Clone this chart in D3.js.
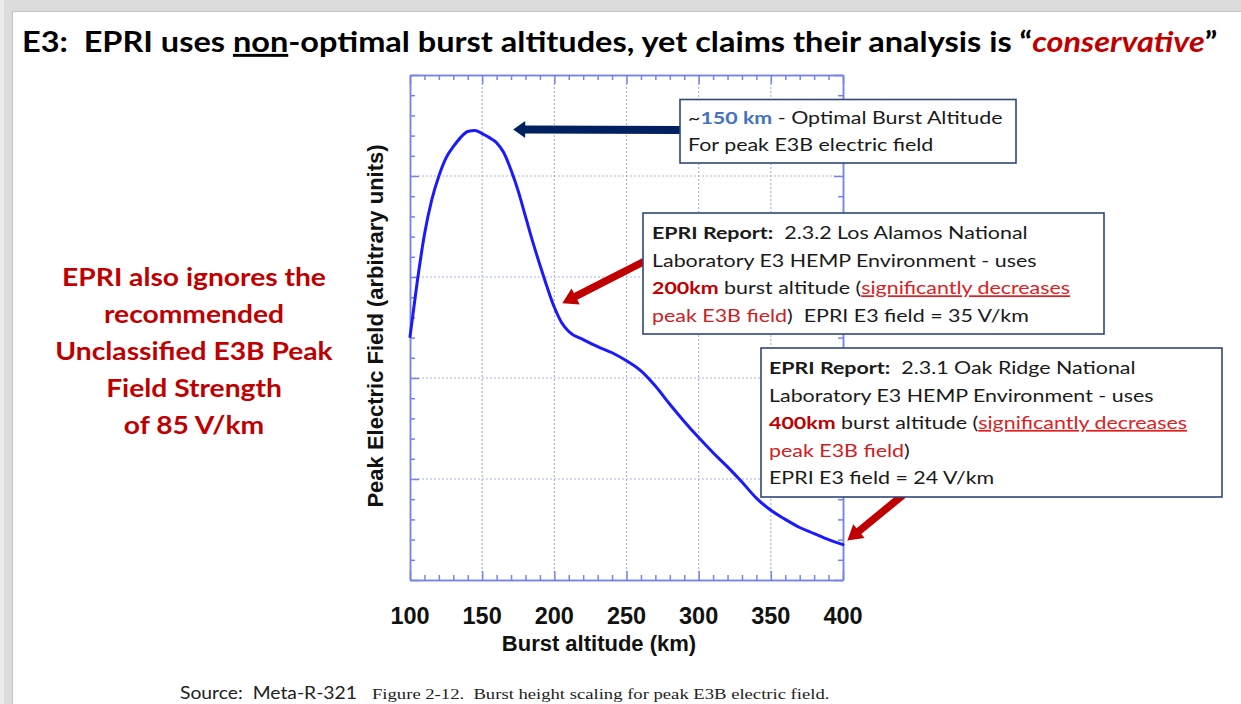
<!DOCTYPE html>
<html><head><meta charset="utf-8">
<script src="https://cdn.jsdelivr.net/npm/d3@7"></script>
<style>body{margin:0;background:#fff;} svg{display:block;} text{white-space:pre;}</style>
</head><body>
<svg id="c" width="1241" height="704"></svg>
<script>
// ---------- data ----------
const altitudes = [100,105,110,115,120,125,130,135,140,145,150,155,160,165,170,175,180,185,190,195,200,205,210,220,230,240,250,260,270,280,290,300,310,320,330,340,350,360,370,380,390,400];
const fieldValues = [2.41,2.95,3.42,3.76,4.00,4.18,4.29,4.38,4.44,4.45,4.42,4.38,4.33,4.23,4.06,3.85,3.60,3.35,3.12,2.90,2.70,2.55,2.46,2.38,2.31,2.25,2.17,2.07,1.92,1.74,1.57,1.41,1.26,1.12,0.97,0.81,0.69,0.60,0.52,0.46,0.40,0.35];
const xTickValues = [100,150,200,250,300,350,400];
const xTickLabels = ["100","150","200","250","300","350","400"];
const yMajorValues = [0,1,2,3,4,5];
const xLabel = "Burst altitude (km)";
const yLabel = "Peak Electric Field (arbitrary units)";
const titleSegments = [
  {t:"E3:  EPRI uses "}, {t:"non", u:true}, {t:"-optimal burst altitudes, yet claims their analysis is \u201C"},
  {t:"conservative", c:"#c00000", i:true}, {t:"\u201D"}];
const sideNote = ["EPRI also ignores the","recommended","Unclassified E3B Peak","Field Strength","of 85 V/km"];
const box1Lines = [
  [{t:"~"},{t:"150 km", b:true, c:"#4472c4"},{t:" - Optimal Burst Altitude"}],
  [{t:"For peak E3B electric field"}]];
const box2Lines = [
  [{t:"EPRI Report:", b:true},{t:"  2.3.2 Los Alamos National"}],
  [{t:"Laboratory E3 HEMP Environment - uses"}],
  [{t:"200km", b:true, c:"#c00000"},{t:" burst altitude ("},{t:"significantly decreases", c:"#e0201e", u:true}],
  [{t:"peak E3B field", c:"#d0201e"},{t:")  EPRI E3 field = 35 V/km"}]];
const box3Lines = [
  [{t:"EPRI Report:", b:true},{t:"  2.3.1 Oak Ridge National"}],
  [{t:"Laboratory E3 HEMP Environment - uses"}],
  [{t:"400km", b:true, c:"#c00000"},{t:" burst altitude ("},{t:"significantly decreases", c:"#e0201e", u:true}],
  [{t:"peak E3B field", c:"#d0201e"},{t:")"}],
  [{t:"EPRI E3 field = 24 V/km"}]];
// arrow targets in data coordinates
const optimalArrowTip = {alt:171.5, val:4.46};
const losAlamosArrowTip = {alt:205.5, val:2.74};
const oakRidgeArrowTip = {alt:403, val:0.39};

// ---------- setup ----------
const svg = d3.select("#c");
const W = 1241, H = 704;
const plot = {left:410, right:843, top:75, bottom:580};
const x = d3.scaleLinear().domain([100,400]).range([plot.left, plot.right]);
const y = d3.scaleLinear().domain([0,5]).range([plot.bottom, plot.top]);

// slide frame
svg.append("rect").attr("width",W).attr("height",H).attr("fill","#fff");
svg.append("rect").attr("x",0).attr("y",0).attr("width",W).attr("height",11).attr("fill","#dcdcdc");
svg.append("rect").attr("x",0).attr("y",0).attr("width",12).attr("height",H).attr("fill","#dcdcdc");
svg.append("rect").attr("x",0).attr("y",0).attr("width",4).attr("height",H).attr("fill","#ececec");
svg.append("line").attr("x1",12).attr("x2",W).attr("y1",11.5).attr("y2",11.5).attr("stroke","#c4c4c4");
svg.append("line").attr("x1",12.5).attr("x2",12.5).attr("y1",11).attr("y2",H).attr("stroke","#c4c4c4");

const FONT_C = "Lato, 'Open Sans', sans-serif";
const FONT_A = "'Liberation Sans', Arial, sans-serif";

function rich(g, x0, y0, segs, size, defColor) {
  const t = g.append("text").attr("x",x0).attr("y",y0)
    .attr("font-family",FONT_C).attr("font-size",size).attr("fill",defColor||"#1a1a1a");
  segs.forEach(s => {
    const ts = t.append("tspan").text(s.t);
    if (s.b) ts.attr("font-weight","bold");
    if (s.i) ts.attr("font-style","italic");
    if (s.c) ts.attr("fill",s.c);
    if (s.u) ts.attr("text-decoration","underline");
  });
  return t;
}

// ---------- grid ----------
const gGrid = svg.append("g");
gGrid.selectAll(".vg").data(xTickValues.slice(1,-1)).join("line")
  .attr("x1",d=>x(d)).attr("x2",d=>x(d)).attr("y1",plot.top).attr("y2",plot.bottom)
  .attr("stroke","#aab2ee").attr("stroke-width",1.2).attr("stroke-dasharray","2,2");
gGrid.selectAll(".hg").data(yMajorValues.slice(1,-1)).join("line")
  .attr("y1",d=>y(d)).attr("y2",d=>y(d)).attr("x1",plot.left).attr("x2",plot.right)
  .attr("stroke","#aab2ee").attr("stroke-width",1.2).attr("stroke-dasharray","2,2");

// ---------- axes (ticks inward on all sides) ----------
const axisColor = "#7484ea";
const xMinor = d3.range(100,401,10).filter(v => v%50!==0);
const yMinor = d3.range(0,5.01,0.2).map(v=>+v.toFixed(1)).filter(v => Math.abs(v-Math.round(v))>1e-6);
function styleAxis(g){ g.selectAll("path,line").attr("stroke",axisColor).attr("stroke-width",1.5); g.selectAll("text").remove(); }
svg.append("g").attr("transform",`translate(0,${plot.bottom})`).call(d3.axisBottom(x).tickValues(xTickValues).tickSize(-9).tickSizeOuter(0)).call(styleAxis);
svg.append("g").attr("transform",`translate(0,${plot.bottom})`).call(d3.axisBottom(x).tickValues(xMinor).tickSize(-5).tickSizeOuter(0)).call(styleAxis);
svg.append("g").attr("transform",`translate(0,${plot.top})`).call(d3.axisTop(x).tickValues(xTickValues).tickSize(-9).tickSizeOuter(0)).call(styleAxis);
svg.append("g").attr("transform",`translate(0,${plot.top})`).call(d3.axisTop(x).tickValues(xMinor).tickSize(-5).tickSizeOuter(0)).call(styleAxis);
svg.append("g").attr("transform",`translate(${plot.left},0)`).call(d3.axisLeft(y).tickValues(yMajorValues).tickSize(-9).tickSizeOuter(0)).call(styleAxis);
svg.append("g").attr("transform",`translate(${plot.left},0)`).call(d3.axisLeft(y).tickValues(yMinor).tickSize(-5).tickSizeOuter(0)).call(styleAxis);
svg.append("g").attr("transform",`translate(${plot.right},0)`).call(d3.axisRight(y).tickValues(yMajorValues).tickSize(-9).tickSizeOuter(0)).call(styleAxis);
svg.append("g").attr("transform",`translate(${plot.right},0)`).call(d3.axisRight(y).tickValues(yMinor).tickSize(-5).tickSizeOuter(0)).call(styleAxis);

// tick labels
svg.append("g").selectAll("text").data(xTickValues).join("text")
  .attr("x",d=>x(d)).attr("y",624).attr("text-anchor","middle")
  .attr("font-family",FONT_A).attr("font-weight","bold").attr("font-size",23.5).attr("fill","#111")
  .text((d,i)=>xTickLabels[i]);
svg.append("text").attr("x",599).attr("y",651).attr("text-anchor","middle")
  .attr("font-family",FONT_A).attr("font-weight","bold").attr("font-size",22).attr("fill","#111").text(xLabel);
svg.append("text").attr("transform",`translate(383,326) rotate(-90)`).attr("text-anchor","middle")
  .attr("font-family",FONT_A).attr("font-weight","bold").attr("font-size",22).attr("fill","#111").text(yLabel);

// ---------- curve ----------
const line = d3.line().x((d,i)=>x(altitudes[i])).y(d=>y(d)).curve(d3.curveMonotoneX);
svg.append("path").datum(fieldValues).attr("d",line).attr("fill","none")
  .attr("stroke","#1a1aff").attr("stroke-width",3).attr("stroke-linejoin","round").attr("stroke-linecap","round");

// ---------- arrows ----------
function arrow(x1,y1,x2,y2,w,hw,hl,color){
  const dx=x2-x1, dy=y2-y1, L=Math.hypot(dx,dy), ux=dx/L, uy=dy/L, px=-uy, py=ux;
  const bx=x2-ux*hl, by=y2-uy*hl;
  const pts=[[x1+px*w/2,y1+py*w/2],[bx+px*w/2,by+py*w/2],[bx+px*hw/2,by+py*hw/2],[x2,y2],
    [bx-px*hw/2,by-py*hw/2],[bx-px*w/2,by-py*w/2],[x1-px*w/2,y1-py*w/2]];
  svg.append("polygon").attr("points",pts.map(p=>p.join(",")).join(" ")).attr("fill",color);
}
arrow(681,130, x(optimalArrowTip.alt), y(optimalArrowTip.val), 8, 17, 12, "#002060");
arrow(645,261, x(losAlamosArrowTip.alt), y(losAlamosArrowTip.val), 7.5, 18, 15, "#c00000");
arrow(903,495, x(oakRidgeArrowTip.alt), y(oakRidgeArrowTip.val), 7.5, 18, 15, "#c00000");

// ---------- annotation boxes ----------
const BOX_FS = 17.5;
const probe = rich(svg, 0, -100, box2Lines[2], BOX_FS);
const boxSx = 418 / probe.node().getComputedTextLength();
probe.remove();

function box(x0,y0,x1,y1,lines,tx,ty0,dy){
  svg.append("rect").attr("x",x0).attr("y",y0).attr("width",x1-x0).attr("height",y1-y0)
    .attr("fill","#fff").attr("stroke","#2f4677").attr("stroke-width",1.6);
  lines.forEach((segs,i)=>{
    const g = svg.append("g").attr("transform",`translate(${tx},${ty0+i*dy}) scale(${boxSx},1)`);
    rich(g,0,0,segs,BOX_FS);
  });
}
box(680,99.5,1016,163, box1Lines, 688, 124, 27);
box(643,213,1104,334, box2Lines, 652, 239, 27.7);
box(761,348,1222,497, box3Lines, 769, 374, 27.5);

// ---------- side note ----------
{
  const fs = 24.5;
  const p = svg.append("text").attr("font-family",FONT_C).attr("font-weight","bold").attr("font-size",fs).text(sideNote[0]);
  const sx = 264 / p.node().getComputedTextLength(); p.remove();
  sideNote.forEach((s,i)=>{
    svg.append("g").attr("transform",`translate(194,${286+i*37}) scale(${sx},1)`)
      .append("text").attr("text-anchor","middle").attr("font-family",FONT_C).attr("font-weight","bold")
      .attr("font-size",fs).attr("fill","#c00000").text(s);
  });
}

// ---------- title ----------
{
  const g = svg.append("g");
  const t = rich(g, 0, 0, titleSegments, 29.5, "#000");
  t.attr("font-weight","bold");
  const w = t.node().getComputedTextLength();
  g.attr("transform",`translate(22,52) scale(${1196/w},1)`);
}

// ---------- source ----------
{
  const g = svg.append("g");
  const t = g.append("text").attr("font-family",FONT_C).attr("font-size",18).attr("fill","#222").text("Source:  Meta-R-321");
  const w = t.node().getComputedTextLength();
  g.attr("transform",`translate(180,699) scale(${177/w},1)`);
  const g2 = svg.append("g");
  const t2 = g2.append("text").attr("font-family","'Liberation Serif', 'Times New Roman', serif").attr("font-size",15).attr("fill","#222")
    .text("Figure 2-12.  Burst height scaling for peak E3B electric field.");
  const w2 = t2.node().getComputedTextLength();
  g2.attr("transform",`translate(372,699) scale(${458/w2},1)`);
}
</script>
</body></html>
